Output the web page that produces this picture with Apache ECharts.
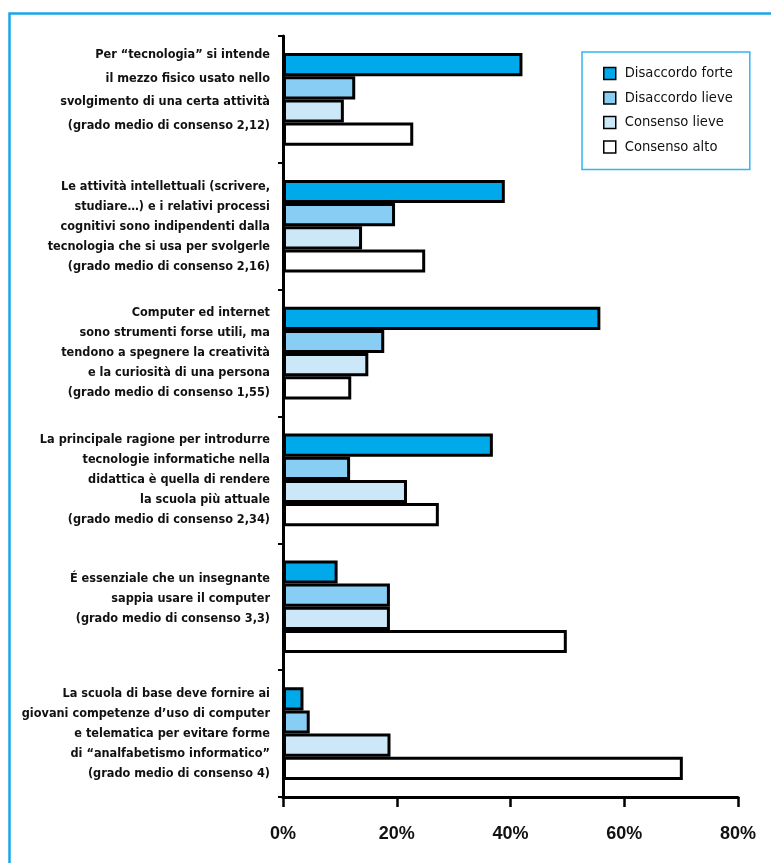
<!DOCTYPE html>
<html>
<head>
    <meta charset="utf-8">
    <title>Tecnologia e didattica</title>
    <script src="https://cdn.jsdelivr.net/npm/echarts@6/dist/echarts.min.js"></script>
    <style>
        html, body { margin: 0; padding: 0; background: #fff; }
        #chart { width: 771px; height: 863px; }
    </style>
</head>
<body>
<div id="chart"></div>
<script>
    // domande (etichette asse verticale)
    var categories = [
        'Per “tecnologia” si intende\nil mezzo fisico usato nello\nsvolgimento di una certa attività\n(grado medio di consenso 2,12)',
        'Le attività intellettuali (scrivere,\nstudiare…) e i relativi processi\ncognitivi sono indipendenti dalla\ntecnologia che si usa per svolgerle\n(grado medio di consenso 2,16)',
        'Computer ed internet\nsono strumenti forse utili, ma\ntendono a spegnere la creatività\ne la curiosità di una persona\n(grado medio di consenso 1,55)',
        'La principale ragione per introdurre\ntecnologie informatiche nella\ndidattica è quella di rendere\nla scuola più attuale\n(grado medio di consenso 2,34)',
        'É essenziale che un insegnante\nsappia usare il computer\n(grado medio di consenso 3,3)',
        'La scuola di base deve fornire ai\ngiovani competenze d’uso di computer\ne telematica per evitare forme\ndi “analfabetismo informatico”\n(grado medio di consenso 4)'
    ];

    var seriesNames = ['Disaccordo forte', 'Disaccordo lieve', 'Consenso lieve', 'Consenso alto'];

    // percentuali
    var disaccordoForte = [42.1, 39.0, 55.8, 36.9, 9.6, 3.6];
    var disaccordoLieve = [12.7, 19.7, 17.8, 11.8, 18.8, 4.7];
    var consensoLieve = [10.7, 13.9, 15.0, 21.8, 18.8, 18.9];
    var consensoAlto = [22.9, 25.0, 12.0, 27.4, 49.9, 70.3];

    var xTicks = [0, 20, 40, 60, 80];

    var colors = ['#00aaea', '#88cdf3', '#cce8f8', '#ffffff'];
    var values = [disaccordoForte, disaccordoLieve, consensoLieve, consensoAlto];

    var narrow = '"Liberation Sans Narrow", "DejaVu Sans Condensed", "Liberation Sans", sans-serif';

    var chart = echarts.init(document.getElementById('chart'));

    var series = seriesNames.map(function (name, i) {
        return {
            name: name,
            type: 'bar',
            data: values[i],
            barGap: '0%',
            barCategoryGap: '27%',
            itemStyle: { color: colors[i], borderColor: '#000', borderWidth: 3 },
            emphasis: { disabled: true }
        };
    });

    chart.setOption({
        animation: false,
        backgroundColor: '#fff',
        graphic: [{
            type: 'rect',
            left: 7,
            top: 11,
            shape: { width: 820, height: 900 },
            style: { fill: 'none', stroke: '#1aa6e6', lineWidth: 2.5 },
            silent: true
        }],
        legend: {
            data: seriesNames,
            orient: 'vertical',
            left: 582,
            top: 52,
            selectedMode: false,
            icon: 'rect',
            itemWidth: 12,
            itemHeight: 12,
            itemGap: 9.5,
            padding: [14, 17, 15, 21],
            borderColor: '#33b6ee',
            borderWidth: 1.5,
            itemStyle: { borderColor: '#000', borderWidth: 1.5 },
            textStyle: { fontFamily: narrow, fontSize: 14.6, color: '#111', padding: [0, 0, 0, 4] }
        },
        grid: { left: 283, right: 33, top: 36, bottom: 66, outerBoundsMode: 'none', containLabel: false },
        xAxis: {
            type: 'value',
            min: xTicks[0],
            max: xTicks[xTicks.length - 1],
            interval: 20,
            axisLine: { show: true, lineStyle: { color: '#000', width: 3 } },
            axisTick: { show: true, length: 10, lineStyle: { color: '#000', width: 2.5 } },
            splitLine: { show: false },
            axisLabel: {
                formatter: '{value}%',
                margin: 28,
                color: '#111',
                fontSize: 18,
                fontWeight: 'bold',
                fontFamily: '"Liberation Sans", Arial, sans-serif'
            }
        },
        yAxis: {
            type: 'category',
            inverse: true,
            data: categories,
            axisLine: { show: true, lineStyle: { color: '#000', width: 3 } },
            axisTick: { show: true, length: 5, lineStyle: { color: '#000', width: 2 } },
            axisLabel: {
                margin: 13,
                color: '#111',
                fontSize: 12.6,
                lineHeight: 20,
                fontWeight: 'bold',
                fontFamily: narrow,
                align: 'right',
                // il primo e il quinto blocco di testo stanno un po' più in alto
                formatter: function (v, idx) {
                    if (idx === 0) return '{a|' + v.split('\n').join('}\n{a|') + '}\n{g| }';
                    if (idx === 4) return v + '\n{h| }';
                    return v;
                },
                rich: {
                    a: { fontSize: 12.6, lineHeight: 23.5, fontWeight: 'bold', fontFamily: narrow, color: '#111' },
                    g: { fontSize: 10, lineHeight: 18 },
                    h: { fontSize: 10, lineHeight: 16 }
                }
            }
        },
        series: series
    });
</script>
</body>
</html>
